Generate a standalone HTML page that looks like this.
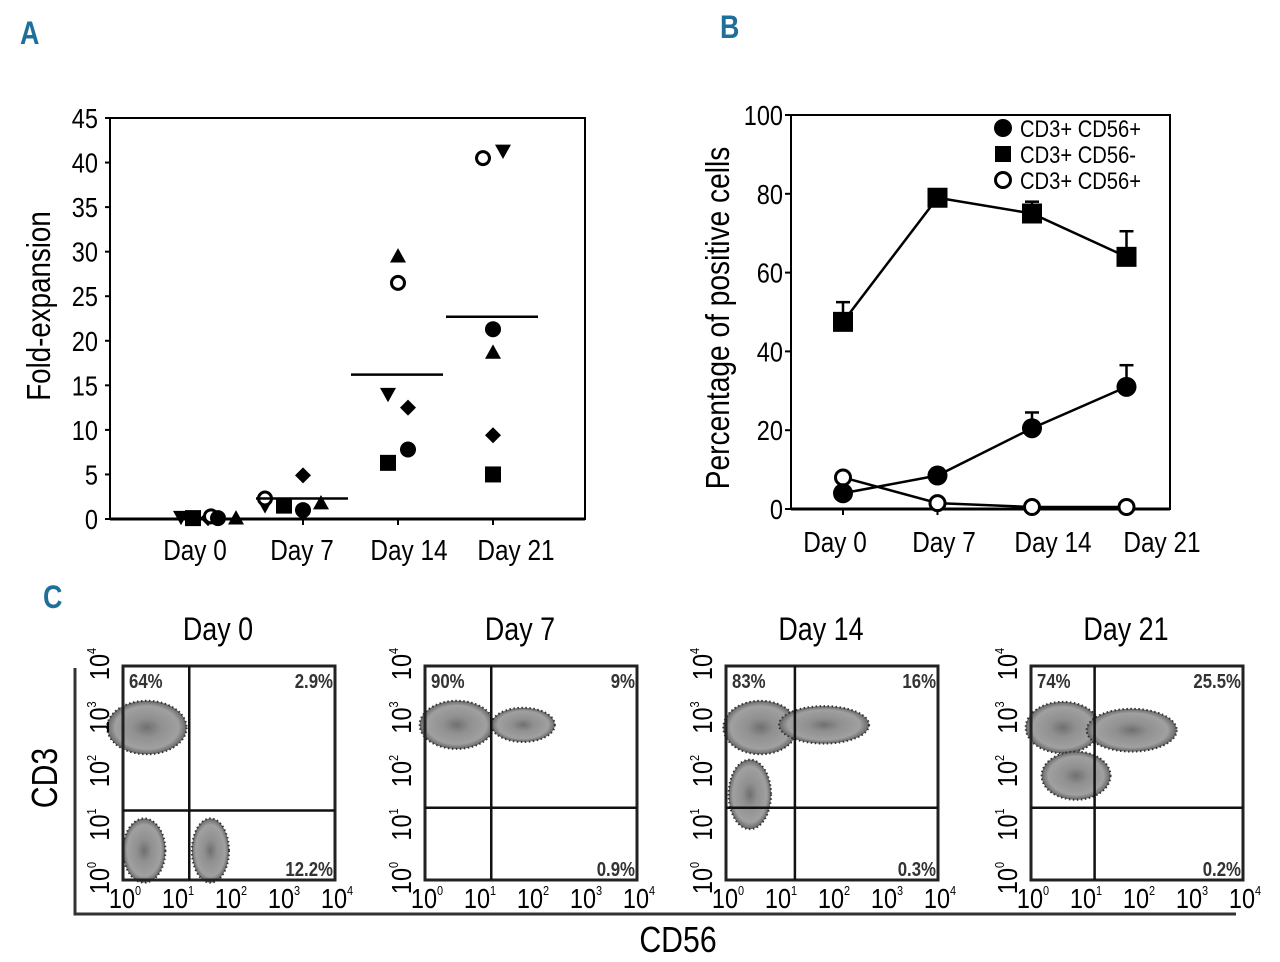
<!DOCTYPE html>
<html><head><meta charset="utf-8"><style>
html,body{margin:0;padding:0;background:#fff;}
svg{display:block;font-family:"Liberation Sans Narrow","Liberation Sans",sans-serif;}
</style></head><body>
<svg id="fig" width="1280" height="962" viewBox="0 0 1280 962">
<text x="20" y="44" font-size="32" font-weight="bold" fill="#1f6f9b">A</text>
<text x="720" y="38" font-size="32" font-weight="bold" fill="#1f6f9b">B</text>
<text x="43" y="608" font-size="32" font-weight="bold" fill="#1f6f9b">C</text>
<g id="pa"></g>
<g id="pb"></g>
<g id="pc"></g>
</svg>
<script>
// ---------- Panel A data ----------
const aDays = ["Day 0","Day 7","Day 14","Day 21"];
const aTicks = [0,5,10,15,20,25,30,35,40,45];
const aShapes = ["tridown","square","diamond","ocircle","circle","triup"];
const aDay0 = [0.2,0.1,0.1,0.3,0.1,0.1];
const aDay7 = [1.5,1.5,4.9,2.3,1.0,1.8];
const aDay14 = [14,6.3,12.5,26.5,7.8,29.5];
const aDay21 = [41.3,5,9.4,40.5,21.3,18.7];
const aMeans = [0.1,2.3,16.2,22.7];
// ---------- Panel B data ----------
const bDays = ["Day 0","Day 7","Day 14","Day 21"];
const bTicks = [0,20,40,60,80,100];
const bSquare = [47.5,79,75,64];
const bSquareErr = [5,1,3,6.5];
const bCircle = [4,8.5,20.5,31];
const bCircleErr = [0,0,4,5.5];
const bOpen = [8,1.5,0.5,0.5];
const bLegend = ["CD3+ CD56+","CD3+ CD56-","CD3+ CD56+"];
// ---------- Panel C data ----------
const cDays = ["Day 0","Day 7","Day 14","Day 21"];
const cUL = ["64%","90%","83%","74%"];
const cUR = ["2.9%","9%","16%","25.5%"];
const cLR = ["12.2%","0.9%","0.3%","0.2%"];

const NS="http://www.w3.org/2000/svg";
function mk(tag,attrs,parent){const e=document.createElementNS(NS,tag);for(const k in attrs)e.setAttribute(k,attrs[k]);parent.appendChild(e);return e;}

function marker(g,shape,x,y,s){
  let e;
  if(shape==="circle"){e=mk("circle",{cx:x,cy:y,r:s,fill:"#000"},g);}
  else if(shape==="ocircle"){e=mk("circle",{cx:x,cy:y,r:s-1.5,fill:"#fff",stroke:"#000","stroke-width":3},g);}
  else if(shape==="square"){e=mk("rect",{x:x-s,y:y-s,width:2*s,height:2*s,fill:"#000"},g);}
  else if(shape==="triup"){e=mk("polygon",{points:`${x},${y-s} ${x-s},${y+s*0.8} ${x+s},${y+s*0.8}`,fill:"#000"},g);}
  else if(shape==="tridown"){e=mk("polygon",{points:`${x},${y+s} ${x-s},${y-s*0.8} ${x+s},${y-s*0.8}`,fill:"#000"},g);}
  else {e=mk("polygon",{points:`${x},${y-s} ${x+s},${y} ${x},${y+s} ${x-s},${y}`,fill:"#000"},g);}
  
  
  return e;
}

// ---------- Panel A ----------
(function(){
  const g=document.getElementById("pa");
  const L=110,R=585,T=118,B=519;
  const ya=v=>B-(v/45)*(B-T);
  const xa=i=>208+i*95;
  const box=mk("rect",{x:L,y:T,width:R-L,height:B-T,fill:"none",stroke:"#000","stroke-width":2},g);
  
  const ax=mk("line",{x1:L,y1:B,x2:R,y2:B,stroke:"#000","stroke-width":3},g);
  
  aTicks.forEach(t=>{
    mk("line",{x1:L-5,y1:ya(t),x2:L,y2:ya(t),stroke:"#000","stroke-width":2},g);
    const tx=mk("text",{x:98,y:ya(t)+10,"font-size":28,"text-anchor":"end"},g);tx.textContent=t;
    
  });
  aDays.forEach((d,i)=>{
    if(i>0)mk("line",{x1:xa(i),y1:B,x2:xa(i),y2:B+6,stroke:"#000","stroke-width":2},g);
    const tx=mk("text",{x:xa(i)-13+i*12,y:560,"font-size":29,"text-anchor":"middle"},g);tx.textContent=d;
    
  });
  const yl=mk("text",{x:0,y:0,"font-size":33,"text-anchor":"middle",transform:"translate(50,306) rotate(-90)"},g);
  yl.textContent="Fold-expansion";
  const offs=[[-27,-15,0,3,10,28],[-38,-19,0,-38,0,18],[-10,-10,10,0,10,0],[10,0,0,-10,0,0]];
  [aDay0,aDay7,aDay14,aDay21].forEach((arr,i)=>{
    arr.forEach((v,j)=>marker(g,aShapes[j],xa(i)+offs[i][j],ya(v),8));
    if(i>0){const ml=mk("line",{x1:xa(i)-47,y1:ya(aMeans[i]),x2:xa(i)+45,y2:ya(aMeans[i]),stroke:"#000","stroke-width":2.5},g);
      }
  });
})();

// ---------- Panel B ----------
(function(){
  const g=document.getElementById("pb");
  const L=791,R=1170,T=115,B=509;
  const yb=v=>B-(v/100)*(B-T);
  const xb=i=>843+i*94.5;
  const box=mk("rect",{x:L,y:T,width:R-L,height:B-T,fill:"none",stroke:"#000","stroke-width":2},g);
  
  mk("line",{x1:L,y1:B,x2:R,y2:B,stroke:"#000","stroke-width":3},g);
  bTicks.forEach(t=>{
    mk("line",{x1:L-6,y1:yb(t),x2:L,y2:yb(t),stroke:"#000","stroke-width":2},g);
    const tx=mk("text",{x:783,y:yb(t)+10,"font-size":28,"text-anchor":"end"},g);tx.textContent=t;
    
  });
  bDays.forEach((d,i)=>{
    mk("line",{x1:xb(i),y1:B,x2:xb(i),y2:B+6,stroke:"#000","stroke-width":2},g);
    const tx=mk("text",{x:835+i*109,y:552,"font-size":29,"text-anchor":"middle"},g);tx.textContent=d;
    
  });
  const yl=mk("text",{x:0,y:0,"font-size":33.5,"text-anchor":"middle",transform:"translate(729,318) rotate(-90)"},g);
  yl.textContent="Percentage of positive cells";
  function series(vals,errs,shape,name){
    const pts=vals.map((v,i)=>`${xb(i)},${yb(v)}`).join(" ");
    const pl=mk("polyline",{points:pts,fill:"none",stroke:"#000","stroke-width":2.5},g);
    
    vals.forEach((v,i)=>{
      if(errs&&errs[i]>0){
        mk("line",{x1:xb(i),y1:yb(v),x2:xb(i),y2:yb(v+errs[i]),stroke:"#000","stroke-width":2.5},g);
        mk("line",{x1:xb(i)-7,y1:yb(v+errs[i]),x2:xb(i)+7,y2:yb(v+errs[i]),stroke:"#000","stroke-width":2.5},g);
      }
      marker(g,shape,xb(i),yb(v),shape==="square"?10:(shape==="ocircle"?9:10));
    });
  }
  series(bOpen,null,"ocircle","cd3-cd56-open");
  series(bCircle,bCircleErr,"circle","cd3-cd56-pos");
  series(bSquare,bSquareErr,"square","cd3-cd56-neg");
  const ls=["circle","square","ocircle"];
  bLegend.forEach((t,i)=>{
    const y=128+i*26;
    marker(g,ls[i],1003,y,ls[i]==="square"?8:9);
    const tx=mk("text",{x:1020,y:y+9,"font-size":24},g);tx.textContent=t;
    
  });
})();

// ---------- Panel C ----------
(function(){
  const g=document.getElementById("pc");
  const defs=mk("defs",{},g);
  const rg=mk("radialGradient",{id:"dens"},defs);
  mk("stop",{offset:"0%","stop-color":"#707070"},rg);
  mk("stop",{offset:"35%","stop-color":"#909090"},rg);
  mk("stop",{offset:"80%","stop-color":"#a0a0a0"},rg);
  mk("stop",{offset:"100%","stop-color":"#666"},rg);
  const lefts=[123,425,726,1031];
  const W=212,T=666,B=880;
  const clouds=[
    [[0.45,2.85,0.75,0.5],[0.4,0.55,0.4,0.6],[1.65,0.55,0.35,0.6]],
    [[0.6,2.9,0.7,0.45],[1.85,2.9,0.6,0.32]],
    [[0.65,2.85,0.7,0.5],[1.85,2.9,0.85,0.35],[0.45,1.6,0.4,0.65]],
    [[0.6,2.85,0.7,0.48],[1.9,2.8,0.85,0.4],[0.85,1.95,0.65,0.45]]
  ];
  const qx=[1.25,1.25,1.3,1.2],qy=[1.3,1.35,1.35,1.35];
  lefts.forEach((L,k)=>{
    const sx=v=>L+v/4*W, sy=v=>B-v/4*(B-T);
    const pg=mk("g",{},g);
     
    clouds[k].forEach(c=>{
      const e=mk("ellipse",{cx:sx(c[0]),cy:sy(c[1]),rx:c[2]/4*W,ry:c[3]/4*(B-T),fill:"url(#dens)",stroke:"#333","stroke-width":2,"stroke-dasharray":"1.5 2.5"},pg);
      
    });
    mk("rect",{x:L,y:T,width:W,height:B-T,fill:"none",stroke:"#222","stroke-width":3},pg);
    mk("line",{x1:sx(qx[k]),y1:T,x2:sx(qx[k]),y2:B,stroke:"#111","stroke-width":2.5},pg);
    mk("line",{x1:L,y1:sy(qy[k]),x2:L+W,y2:sy(qy[k]),stroke:"#111","stroke-width":2.5},pg);
    const tt=mk("text",{x:L+95,y:640,"font-size":32,"text-anchor":"middle"},pg);tt.textContent=cDays[k];
    
    const a=mk("text",{x:L+6,y:T+22,"font-size":20,"font-weight":"bold",fill:"#333"},pg);a.textContent=cUL[k];
    
    const b=mk("text",{x:L+W-2,y:T+22,"font-size":20,"font-weight":"bold",fill:"#333","text-anchor":"end"},pg);b.textContent=cUR[k];
    
    const c=mk("text",{x:L+W-2,y:B-4,"font-size":20,"font-weight":"bold",fill:"#333","text-anchor":"end"},pg);c.textContent=cLR[k];
    
    for(let d=0;d<=4;d++){
      const tx=mk("text",{x:sx(d)+2,y:908,"font-size":28,"text-anchor":"middle"},pg);
      tx.textContent="10";const sp=mk("tspan",{"font-size":13,dy:-13},tx);sp.textContent=d;
      
      const ty=mk("text",{x:0,y:0,"font-size":28,"text-anchor":"middle",transform:`translate(${L-14},${sy(d)-2}) rotate(-90)`},pg);
      ty.textContent="10";const sp2=mk("tspan",{"font-size":13,dy:-13},ty);sp2.textContent=d;
      
    }
  });
  mk("polyline",{points:"75,668 75,914 1236,914",fill:"none",stroke:"#333","stroke-width":3},g);
  const cd3=mk("text",{x:0,y:0,"font-size":36,"text-anchor":"middle",transform:"translate(57,778) rotate(-90)"},g);
  cd3.textContent="CD3";
  const cd56=mk("text",{x:678,y:952,"font-size":36,"text-anchor":"middle"},g);
  cd56.textContent="CD56";
})();

// condense all text (narrow typeface emulation)
document.querySelectorAll("#fig text").forEach(t=>{
  const len=t.getComputedTextLength();
  if(len>0){t.setAttribute("textLength",(len*0.84).toFixed(1));t.setAttribute("lengthAdjust","spacingAndGlyphs");}
});
</script>
</body></html>
